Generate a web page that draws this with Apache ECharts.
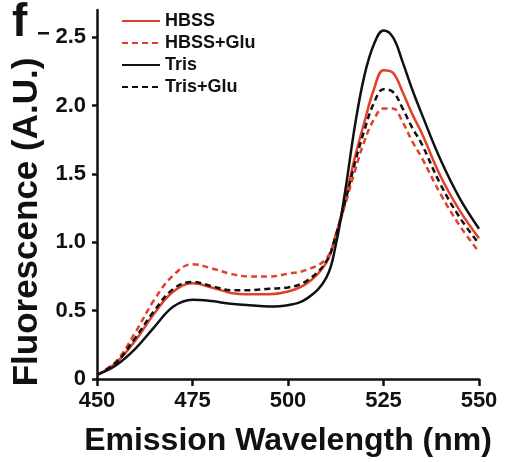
<!DOCTYPE html>
<html>
<head>
<meta charset="utf-8">
<script src="https://cdn.jsdelivr.net/npm/echarts@6/dist/echarts.min.js"></script>
<style>
  html, body { margin: 0; padding: 0; background: #fff; }
  #main { width: 508px; height: 462px; }
</style>
</head>
<body>
<div id="main"></div>
<script>
var wavelength = [450, 455, 460, 465, 470, 475, 480, 485, 490, 495, 500, 505, 510, 512.5, 515, 517.5, 520, 522.5, 525, 527.5, 530, 532.5, 535, 540, 545, 550];
var hbss =    [0.03, 0.12, 0.28, 0.48, 0.64, 0.70, 0.67, 0.63, 0.62, 0.62, 0.64, 0.70, 0.85, 1.05, 1.32, 1.62, 1.88, 2.12, 2.26, 2.24, 2.10, 1.94, 1.80, 1.48, 1.23, 1.03];
var hbssGlu = [0.03, 0.13, 0.34, 0.58, 0.76, 0.84, 0.81, 0.77, 0.75, 0.75, 0.77, 0.80, 0.88, 1.05, 1.28, 1.52, 1.74, 1.90, 1.98, 1.98, 1.88, 1.74, 1.62, 1.35, 1.12, 0.93];
var tris =    [0.03, 0.10, 0.22, 0.38, 0.53, 0.58, 0.57, 0.55, 0.54, 0.53, 0.54, 0.59, 0.74, 0.98, 1.38, 1.85, 2.22, 2.45, 2.55, 2.50, 2.32, 2.12, 1.94, 1.60, 1.32, 1.10];
var trisGlu = [0.03, 0.12, 0.30, 0.50, 0.66, 0.71, 0.68, 0.65, 0.65, 0.66, 0.67, 0.72, 0.86, 1.05, 1.30, 1.58, 1.82, 2.02, 2.12, 2.10, 1.98, 1.84, 1.72, 1.42, 1.18, 0.99];
var yTicks = [0, 0.5, 1, 1.5, 2, 2.5];

function pairs(ys) {
  return wavelength.map(function (x, i) { return [x, ys[i]]; });
}

var red = '#e2402c';
var ink = '#111';
var font = 'Liberation Sans, Arial, sans-serif';

var chart = echarts.init(document.getElementById('main'));

function mkSeries(name, ys, color, dashed) {
  return {
    name: name,
    type: 'line',
    data: pairs(ys),
    smooth: 0.4,
    symbol: 'none',
    lineStyle: { color: color, width: 2.5, type: dashed ? [6, 4] : 'solid' },
    itemStyle: { color: color }
  };
}

var option = {
  animation: false,
  textStyle: { fontFamily: font },
  grid: { left: 97, right: 29, top: 10, bottom: 75 },
  legend: {
    orient: 'vertical',
    left: 116,
    top: 7,
    itemWidth: 38,
    itemHeight: 14,
    itemGap: 4,
    itemStyle: { opacity: 0 },
    textStyle: { fontSize: 18, fontWeight: 'bold', color: ink, fontFamily: font },
    data: ['HBSS', 'HBSS+Glu', 'Tris', 'Tris+Glu']
  },
  xAxis: {
    type: 'value',
    min: 450,
    max: 550,
    interval: 25,
    name: 'Emission Wavelength (nm)',
    nameLocation: 'middle',
    nameGap: 46,
    nameTextStyle: { fontSize: 32, fontWeight: 'bold', color: ink, fontFamily: font },
    axisLine: { lineStyle: { color: ink, width: 2.5 } },
    axisTick: { show: true, length: 7, lineStyle: { color: ink, width: 2.5 } },
    axisLabel: { fontSize: 22, fontWeight: 'bold', color: ink, margin: 11, fontFamily: font },
    splitLine: { show: false }
  },
  yAxis: {
    type: 'value',
    min: 0,
    max: 2.7,
    interval: 0.5,
    axisLine: { show: true, lineStyle: { color: ink, width: 2.5 } },
    axisTick: { show: true, length: 5, customValues: yTicks, lineStyle: { color: ink, width: 2.5 } },
    axisLabel: {
      fontSize: 22, fontWeight: 'bold', color: ink, margin: 11, fontFamily: font,
      customValues: yTicks,
      formatter: function (v) { return v === 0 ? '0' : v.toFixed(1); }
    },
    splitLine: { show: false }
  },
  graphic: [
    { type: 'text', left: 12, top: 0, style: { text: 'f', fontSize: 46, fontWeight: 'bold', fill: ink, fontFamily: font } },
    { type: 'rect', left: 38, top: 32, shape: { width: 11, height: 2.5 }, style: { fill: ink } },
    {
      type: 'text', x: 27, y: 222, rotation: Math.PI / 2,
      style: {
        text: 'Fluorescence (A.U.)', x: 0, y: 0, align: 'center', verticalAlign: 'middle',
        fontSize: 35, fontWeight: 'bold', fill: ink, fontFamily: font
      }
    }
  ],
  series: [
    mkSeries('HBSS', hbss, red, false),
    mkSeries('HBSS+Glu', hbssGlu, red, true),
    mkSeries('Tris', tris, ink, false),
    mkSeries('Tris+Glu', trisGlu, ink, true)
  ]
};

chart.setOption(option);
</script>
</body>
</html>
